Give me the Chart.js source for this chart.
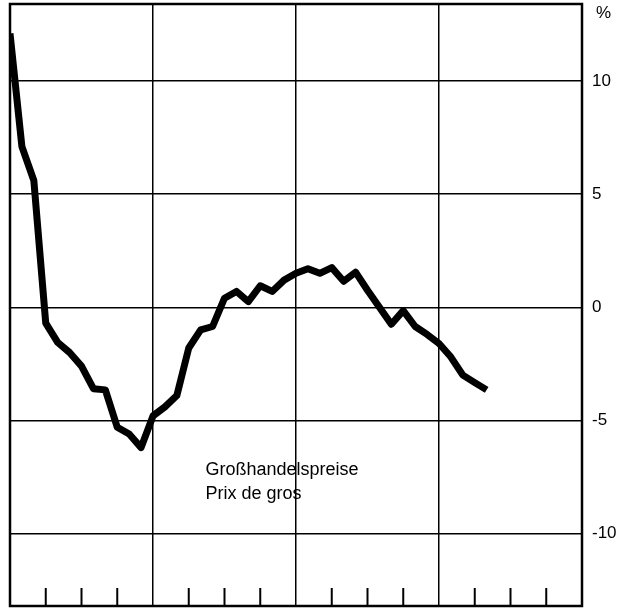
<!DOCTYPE html>
<html lang="de">
<head>
	<meta charset="UTF-8">
	<title>Großhandelspreise</title>
	<script src="https://cdn.jsdelivr.net/npm/chart.js"></script>
	<style>
		body { margin: 0; background: #fff; }
	</style>
</head>
<body>
	<canvas id="priceChart" width="635" height="610"></canvas>
<script>
	// months since start of the first year shown (4 years, 12 months each)
	const months = [0, 1, 2, 3, 4, 5, 6, 7, 8, 9, 10, 11, 12, 13, 14, 15, 16, 17, 18, 19, 20,
		21, 22, 23, 24, 25, 26, 27, 28, 29, 30, 31, 32, 33, 34, 35, 36, 37, 38, 39, 40];
	// change against previous year, %
	const wholesale = [12.1, 7.1, 5.6, -0.7, -1.55, -2.0, -2.6, -3.6, -3.65, -5.3, -5.6, -6.2, -4.8,
		-4.4, -3.9, -1.8, -1.0, -0.85, 0.4, 0.7, 0.25, 0.95, 0.7, 1.2, 1.5, 1.7, 1.5, 1.75, 1.15,
		1.55, 0.75, 0.0, -0.75, -0.15, -0.85, -1.2, -1.6, -2.2, -3.0, -3.33, -3.65];
	const yTicks = [-10, -5, 0, 5, 10];
	const yearLines = [0, 12, 24, 36, 48];
	const quarterTicks = [3, 6, 9, 15, 18, 21, 27, 30, 33, 39, 42, 45];
	const labelLines = ['Großhandelspreise', 'Prix de gros'];

	const FONT = '"Liberation Sans", Arial, Helvetica, sans-serif';

	const framePlugin = {
		id: 'frame',
		beforeDatasetsDraw(chart) {
			const { ctx, chartArea: a, scales: { x, y } } = chart;
			ctx.save();
			ctx.strokeStyle = '#000';
			ctx.lineWidth = 2.5;
			ctx.strokeRect(a.left, a.top, a.right - a.left, a.bottom - a.top);
			ctx.lineWidth = 2;
			quarterTicks.forEach(m => {
				const px = x.getPixelForValue(m);
				ctx.beginPath();
				ctx.moveTo(px, a.bottom);
				ctx.lineTo(px, a.bottom - 18);
				ctx.stroke();
			});
			ctx.fillStyle = '#000';
			ctx.font = '17px ' + FONT;
			ctx.textBaseline = 'top';
			ctx.fillText('%', a.right + 14, a.top + 1);
			// series label
			ctx.font = '18px ' + FONT;
			ctx.textBaseline = 'alphabetic';
			const lx = x.getPixelForValue(16.4);
			const ly = y.getPixelForValue(-7.4);
			labelLines.forEach((t, i) => ctx.fillText(t, lx, ly + i * 24));
			ctx.restore();
		}
	};

	const chart = new Chart(document.getElementById('priceChart').getContext('2d'), {
		type: 'line',
		data: {
			labels: months,
			datasets: [{
				label: 'Großhandelspreise',
				data: months.map((m, i) => ({ x: m, y: wholesale[i] })),
				borderColor: '#000',
				borderWidth: 7,
				borderJoinStyle: 'round',
				pointRadius: 0,
				tension: 0
			}]
		},
		options: {
			responsive: false,
			animation: false,
			layout: { padding: { left: 10, top: 4 } },
			plugins: {
				legend: { display: false },
				tooltip: { enabled: false }
			},
			scales: {
				x: {
					type: 'linear',
					min: 0,
					max: 48,
					afterBuildTicks: s => { s.ticks = yearLines.map(v => ({ value: v })); },
					afterFit: s => { s.height = 4; s.paddingLeft = 0; s.paddingRight = 0; },
					ticks: { display: false },
					grid: { color: '#000', lineWidth: 1.5, drawTicks: false },
					border: { display: false }
				},
				y: {
					position: 'right',
					min: -13.2,
					max: 13.4,
					afterBuildTicks: s => { s.ticks = yTicks.map(v => ({ value: v })); },
					afterFit: s => { s.width = 53; s.paddingTop = 0; s.paddingBottom = 0; },
					ticks: {
						color: '#000',
						padding: 10,
						font: { family: FONT, size: 17 }
					},
					grid: { color: '#000', lineWidth: 1.5, drawTicks: false },
					border: { display: false }
				}
			}
		},
		plugins: [framePlugin]
	});
</script>
</body>
</html>
